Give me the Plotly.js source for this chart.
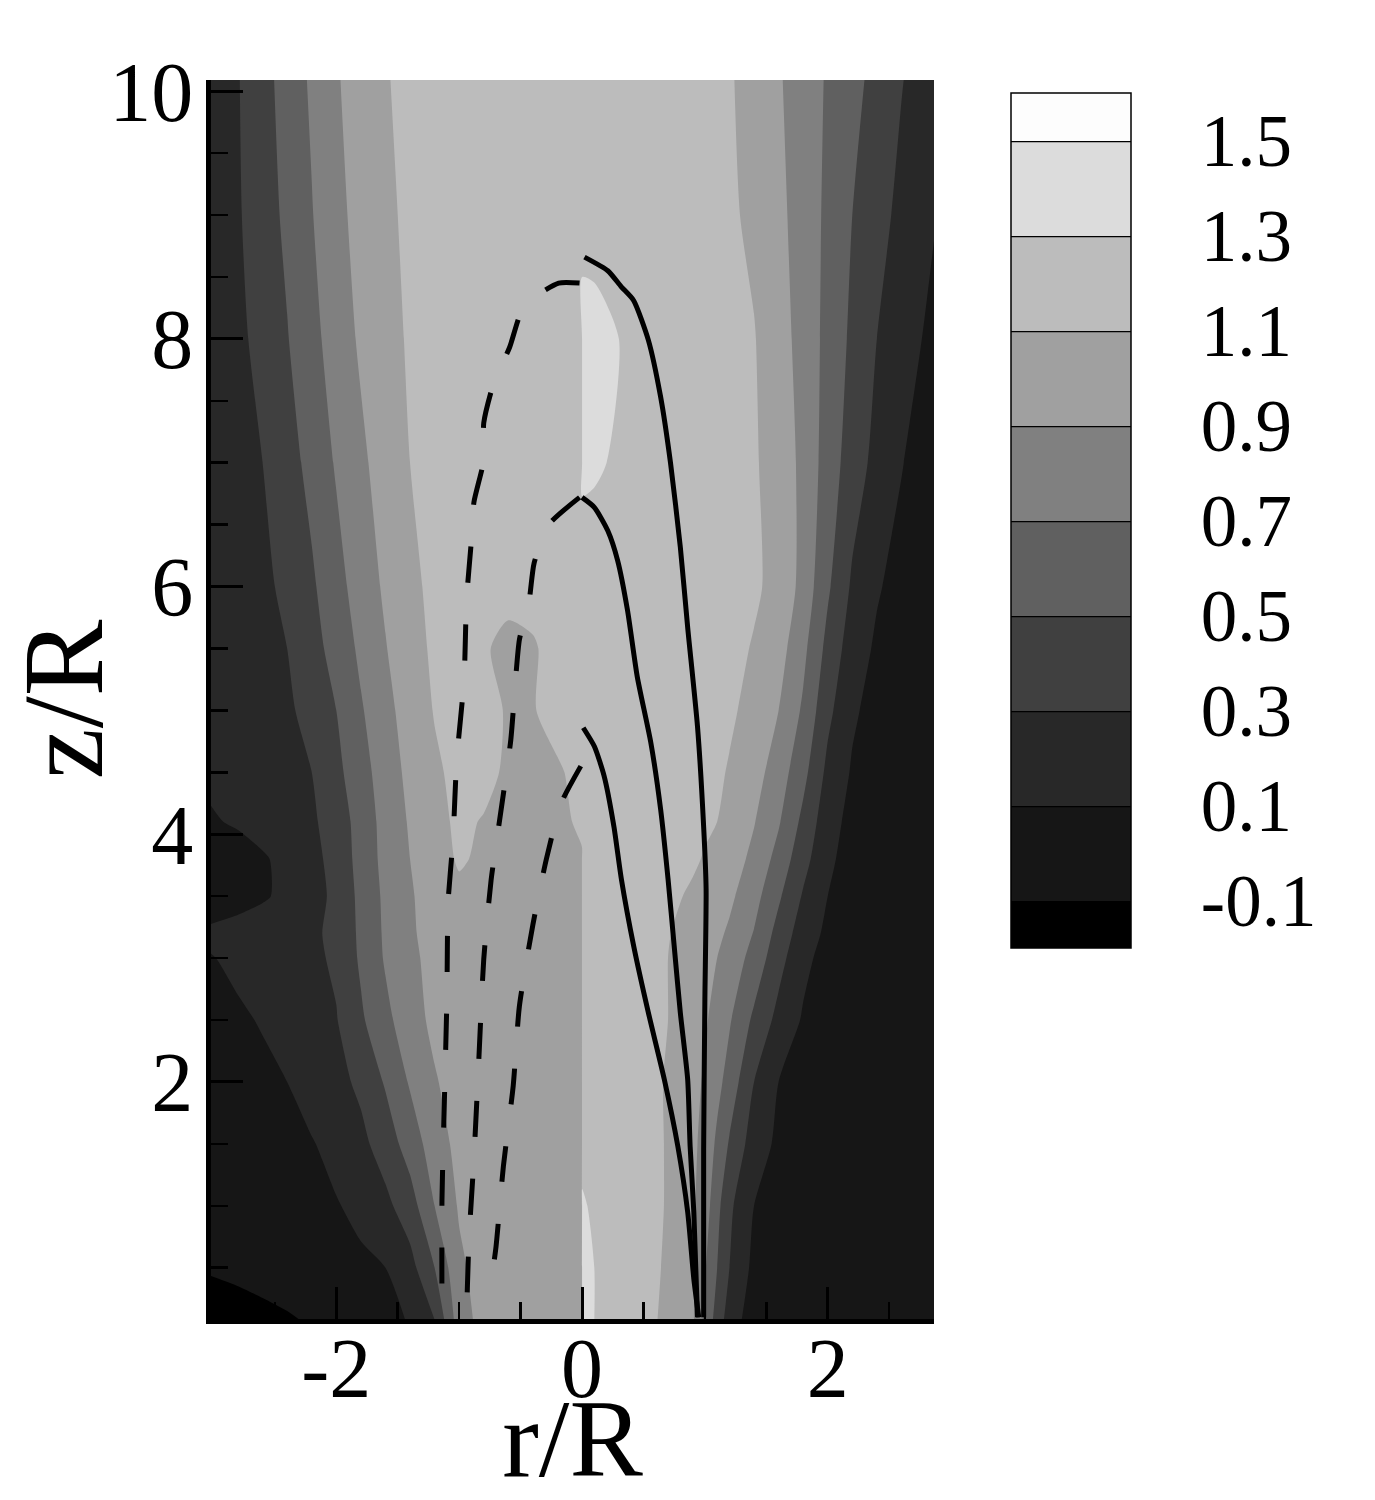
<!DOCTYPE html>
<html>
<head>
<meta charset="utf-8">
<script src="https://cdn.plot.ly/plotly-3.0.1.min.js"></script>
<style>html,body{margin:0;padding:0;background:#fff;}#plot{width:1375px;height:1500px;}</style>
</head>
<body>
<div id="plot"></div>
<script>
// ---- contour levels / legend ----
const levelStart = -0.1, levelEnd = 1.5, levelSize = 0.2;
const legendTicks = [-0.1, 0.1, 0.3, 0.5, 0.7, 0.9, 1.1, 1.3, 1.5];
const legendTickText = ["-0.1", "0.1", "0.3", "0.5", "0.7", "0.9", "1.1", "1.3", "1.5"];
const bandColors = ["#000000", "#161616", "#282828", "#404040", "#606060",
                    "#808080", "#a0a0a0", "#bcbcbc", "#dcdcdc", "#fdfdfd"];

// ---- grid heights shared by both halves ----
const zRows = [0.08, 0.5, 1, 1.5, 2, 2.5, 3, 3.2, 3.5, 3.8, 4.1, 4.5, 5, 5.5, 6, 7, 8, 9, 10.1];

// ---- field, left half (r < 0), one row per zRows entry ----
const rLeft = [-3.04, -2.8, -2.6, -2.4, -2.2, -2.0, -1.8, -1.6, -1.4, -1.2, -1.0, -0.8, -0.6, -0.4, -0.2, -0.001];
const fieldLeft = [
  [-0.22,-0.19,-0.15,-0.12,-0.08,-0.04,0.01,0.06,0.11,0.3,0.81,0.97,1.0,1.0,1.0,1.0],
  [-0.08,-0.05,-0.03,0.0,0.02,0.05,0.07,0.1,0.23,0.5,0.86,0.99,1.01,1.01,1.01,1.01],
  [-0.03,0.0,0.03,0.05,0.07,0.09,0.14,0.25,0.41,0.7,0.92,1.0,1.02,1.02,1.02,1.02],
  [0.0,0.03,0.05,0.07,0.09,0.15,0.25,0.39,0.59,0.8,0.96,1.02,1.03,1.03,1.03,1.03],
  [0.02,0.05,0.07,0.1,0.17,0.24,0.34,0.52,0.72,0.88,1.0,1.04,1.04,1.04,1.04,1.04],
  [0.05,0.08,0.11,0.17,0.23,0.29,0.47,0.65,0.81,0.95,1.03,1.05,1.05,1.05,1.05,1.05],
  [0.09,0.13,0.17,0.22,0.26,0.33,0.53,0.72,0.85,0.97,1.04,1.06,1.06,1.06,1.06,1.06],
  [0.13,0.16,0.19,0.23,0.27,0.34,0.54,0.73,0.87,0.98,1.05,1.07,1.07,1.07,1.07,1.07],
  [0.0,0.04,0.08,0.14,0.22,0.35,0.55,0.74,0.88,0.99,1.06,1.08,1.07,1.06,1.06,1.08],
  [-0.02,0.03,0.08,0.15,0.24,0.37,0.57,0.76,0.9,1.02,1.12,1.07,1.06,1.06,1.07,1.09],
  [0.08,0.12,0.17,0.22,0.27,0.39,0.58,0.77,0.92,1.05,1.13,1.09,1.06,1.06,1.07,1.12],
  [0.13,0.18,0.22,0.26,0.3,0.45,0.62,0.8,0.95,1.07,1.15,1.15,1.07,1.06,1.08,1.15],
  [0.13,0.18,0.23,0.27,0.36,0.5,0.68,0.84,0.99,1.11,1.16,1.17,1.08,1.09,1.16,1.18],
  [0.12,0.17,0.22,0.3,0.43,0.57,0.74,0.89,1.03,1.13,1.17,1.12,1.05,1.08,1.17,1.2],
  [0.12,0.16,0.24,0.36,0.47,0.63,0.79,0.93,1.06,1.14,1.18,1.18,1.16,1.17,1.19,1.2],
  [0.13,0.2,0.3,0.42,0.56,0.72,0.86,0.99,1.1,1.15,1.18,1.2,1.2,1.2,1.2,1.2],
  [0.14,0.25,0.37,0.49,0.64,0.79,0.93,1.04,1.12,1.16,1.18,1.2,1.2,1.2,1.2,1.2],
  [0.15,0.28,0.41,0.54,0.69,0.85,0.96,1.07,1.13,1.16,1.18,1.2,1.2,1.2,1.2,1.2],
  [0.15,0.29,0.43,0.58,0.73,0.88,1.0,1.09,1.14,1.17,1.19,1.2,1.2,1.2,1.2,1.2]
];

// ---- field, right half (r > 0), one row per zRows entry ----
const rRight = [0.001, 0.1, 0.3, 0.5, 0.7, 0.9, 1.0, 1.1, 1.2, 1.4, 1.6, 1.8, 2.0, 2.2, 2.4, 2.6, 2.87];
const fieldRight = [
  [1.38,1.3,1.18,1.14,1.07,0.93,0.65,0.42,0.2,0.0,-0.03,-0.05,-0.06,-0.06,-0.06,-0.06,-0.06],
  [1.37,1.3,1.18,1.15,1.08,0.93,0.72,0.5,0.3,0.05,-0.02,-0.04,-0.05,-0.06,-0.06,-0.06,-0.06],
  [1.33,1.26,1.18,1.15,1.09,0.93,0.8,0.56,0.34,0.1,0.02,-0.02,-0.04,-0.05,-0.06,-0.06,-0.06],
  [1.22,1.2,1.17,1.15,1.09,0.94,0.84,0.66,0.48,0.2,0.06,0.0,-0.03,-0.05,-0.06,-0.06,-0.06],
  [1.2,1.18,1.16,1.14,1.09,0.95,0.88,0.76,0.62,0.3,0.1,0.02,-0.02,-0.04,-0.05,-0.06,-0.06],
  [1.2,1.18,1.16,1.14,1.1,0.98,0.92,0.84,0.72,0.46,0.24,0.08,0.0,-0.03,-0.05,-0.06,-0.06],
  [1.2,1.19,1.17,1.14,1.1,1.0,0.95,0.9,0.82,0.63,0.37,0.15,0.03,-0.02,-0.04,-0.05,-0.06],
  [1.2,1.19,1.17,1.15,1.11,1.03,0.98,0.94,0.87,0.69,0.43,0.2,0.06,-0.01,-0.04,-0.05,-0.06],
  [1.2,1.19,1.18,1.16,1.13,1.08,1.04,1.0,0.94,0.77,0.53,0.28,0.1,0.01,-0.03,-0.05,-0.06],
  [1.2,1.2,1.19,1.18,1.15,1.12,1.09,1.06,1.0,0.85,0.63,0.37,0.14,0.02,-0.02,-0.04,-0.06],
  [1.2,1.2,1.2,1.19,1.17,1.14,1.12,1.1,1.06,0.91,0.72,0.45,0.18,0.04,-0.02,-0.04,-0.06],
  [1.21,1.21,1.2,1.2,1.18,1.16,1.14,1.12,1.09,0.98,0.8,0.56,0.25,0.08,0.0,-0.03,-0.06],
  [1.22,1.22,1.21,1.2,1.19,1.18,1.16,1.14,1.12,1.06,0.9,0.67,0.35,0.13,0.03,-0.02,-0.06],
  [1.22,1.22,1.21,1.2,1.2,1.19,1.17,1.16,1.14,1.09,0.98,0.75,0.44,0.2,0.07,0.0,-0.05],
  [1.22,1.22,1.21,1.2,1.2,1.19,1.18,1.17,1.15,1.12,1.06,0.83,0.53,0.27,0.12,0.03,-0.04],
  [1.33,1.32,1.28,1.24,1.22,1.2,1.19,1.17,1.16,1.12,1.02,0.85,0.61,0.4,0.24,0.11,-0.03],
  [1.36,1.35,1.3,1.25,1.22,1.2,1.19,1.17,1.15,1.11,0.98,0.83,0.64,0.46,0.3,0.18,0.05],
  [1.24,1.24,1.23,1.22,1.21,1.19,1.17,1.15,1.13,1.06,0.95,0.81,0.66,0.5,0.37,0.25,0.11],
  [1.22,1.22,1.22,1.21,1.2,1.19,1.17,1.15,1.12,1.02,0.92,0.8,0.68,0.56,0.44,0.31,0.17]
];

// ---- curves (solid: right side, dashed: left side) ----
const solidA_r = [0.02,0.21,0.32,0.42,0.54,0.64,0.72,0.80,0.86,0.94,0.99,1.01,1.00,0.99,0.99];
const solidA_z = [8.66,8.55,8.42,8.31,7.99,7.53,7.00,6.32,5.67,4.87,4.06,3.56,2.67,1.46,0.10];
const solidB_r = [0.0,0.10,0.21,0.29,0.37,0.45,0.56,0.64,0.70,0.75,0.80,0.86,0.88,0.91,0.94];
const solidB_z = [6.72,6.64,6.45,6.21,5.81,5.27,4.74,4.20,3.64,3.10,2.56,2.02,1.48,0.95,0.10];
const solidC_r = [0.01,0.10,0.18,0.26,0.32,0.42,0.54,0.67,0.78,0.86,0.91,0.95];
const solidC_z = [4.86,4.71,4.47,4.06,3.64,3.10,2.56,2.02,1.48,0.95,0.41,0.10];
const dashA_r = [-0.02,-0.19,-0.47,-0.59,-0.72,-0.80,-0.80,-0.88,-0.90,-0.94,-0.96,-1.02,-1.05,-1.09,-1.10,-1.12,-1.14,-1.14];
const dashA_z = [8.45,8.45,8.27,7.93,7.64,7.32,7.02,6.68,6.38,5.89,5.25,4.60,3.96,3.45,2.67,1.86,1.05,0.14];
const dashB_r = [-0.02,-0.27,-0.39,-0.43,-0.51,-0.54,-0.58,-0.67,-0.74,-0.80,-0.84,-0.88,-0.92,-0.94];
const dashB_z = [6.72,6.50,6.19,5.89,5.57,5.26,4.76,4.12,3.63,2.99,2.18,1.38,0.73,0.11];
const dashC_r = [-0.01,-0.17,-0.29,-0.40,-0.51,-0.56,-0.64,-0.70,-0.74];
const dashC_z = [4.55,4.25,3.80,3.27,2.61,1.97,1.32,0.67,0.38];

// ---- axes ----
const xRange = [-3.02, 2.865];
const yRange = [0.086, 10.09];
const xTicks = [-2, 0, 2];
const yTicks = [2, 4, 6, 8, 10];

const colorscale = bandColors.map((c, i) => [i / (bandColors.length - 1), c]);

// one grid for the library: the two halves side by side
const rAll = rLeft.concat(rRight);
const fieldAll = fieldLeft.map((row, i) => row.concat(fieldRight[i]));

function curve(r, z, dash) {
  return {type: 'scatter', mode: 'lines', x: r, y: z, hoverinfo: 'skip', showlegend: false,
          line: {color: '#000', width: 5, dash: dash ? '36px,42px' : 'solid',
                 shape: 'spline', smoothing: 0.6}};
}

const serif = 'Liberation Serif, Times New Roman, serif';
const data = [
  {type: 'contour', x: rAll, y: zRows, z: fieldAll, autocontour: false,
   contours: {start: levelStart, end: levelEnd, size: levelSize, coloring: 'fill', showlines: false},
   colorscale: colorscale, showscale: false, line: {width: 0, smoothing: 0.7}, hoverinfo: 'skip'},
  // legend carrier (lies outside the plotted range)
  {type: 'contour', x: [100, 101], y: [100, 101], z: [[-0.3, 1.7], [-0.3, 1.7]],
   contours: {start: levelStart, end: levelEnd, size: levelSize, coloring: 'fill', showlines: true},
   autocontour: false, colorscale: colorscale, line: {color: '#000', width: 1.2},
   hoverinfo: 'skip', showscale: true,
   colorbar: {x: 1.1065, xanchor: 'left', xref: 'paper', y: 0.9895, yanchor: 'top', yref: 'paper',
              lenmode: 'pixels', len: 855, thicknessmode: 'pixels', thickness: 120,
              xpad: 0, ypad: 0, outlinewidth: 1.5, outlinecolor: '#000',
              tickmode: 'array', tickvals: legendTicks, ticktext: legendTickText,
              ticks: 'outside', ticklen: 55, tickcolor: 'rgba(0,0,0,0)',
              tickfont: {family: serif, size: 73, color: '#000'}}},
  curve(solidA_r, solidA_z, false),
  curve(solidB_r, solidB_z, false),
  curve(solidC_r, solidC_z, false),
  curve(dashA_r, dashA_z, true),
  curve(dashB_r, dashB_z, true),
  curve(dashC_r, dashC_z, true)
];

const axisCommon = {
  showgrid: false, zeroline: false, showline: true, linecolor: '#000', linewidth: 5,
  ticks: 'inside', ticklen: 32, tickwidth: 3, tickcolor: '#000',
  tickfont: {family: serif, size: 84, color: '#000'}, layer: 'above traces', fixedrange: true
};

const layout = {
  width: 1375, height: 1500,
  margin: {l: 211, r: 441, t: 80, b: 181, pad: 0},
  paper_bgcolor: '#fff', plot_bgcolor: '#bcbcbc',
  showlegend: false,
  font: {family: serif, color: '#000'},
  xaxis: Object.assign({}, axisCommon, {
    range: xRange, tickmode: 'array', tickvals: xTicks, ticktext: xTicks.map(String),
    minor: {ticks: 'inside', ticklen: 17, tickwidth: 2.5, tickcolor: '#000', dtick: 0.5, tick0: 0},
    title: {text: 'r/R', font: {family: serif, size: 110, color: '#000'}, standoff: 76},
    ticklabelstandoff: -28
  }),
  yaxis: Object.assign({}, axisCommon, {
    range: yRange, tickmode: 'array', tickvals: yTicks, ticktext: yTicks.map(String),
    minor: {ticks: 'inside', ticklen: 17, tickwidth: 2.5, tickcolor: '#000', dtick: 0.5, tick0: 0},
    title: {text: 'z/R', font: {family: serif, size: 115, color: '#000'}, standoff: 60},
    ticklabelstandoff: -4
  })
};

Plotly.newPlot('plot', data, layout, {staticPlot: true, displayModeBar: false});
</script>
</body>
</html>
